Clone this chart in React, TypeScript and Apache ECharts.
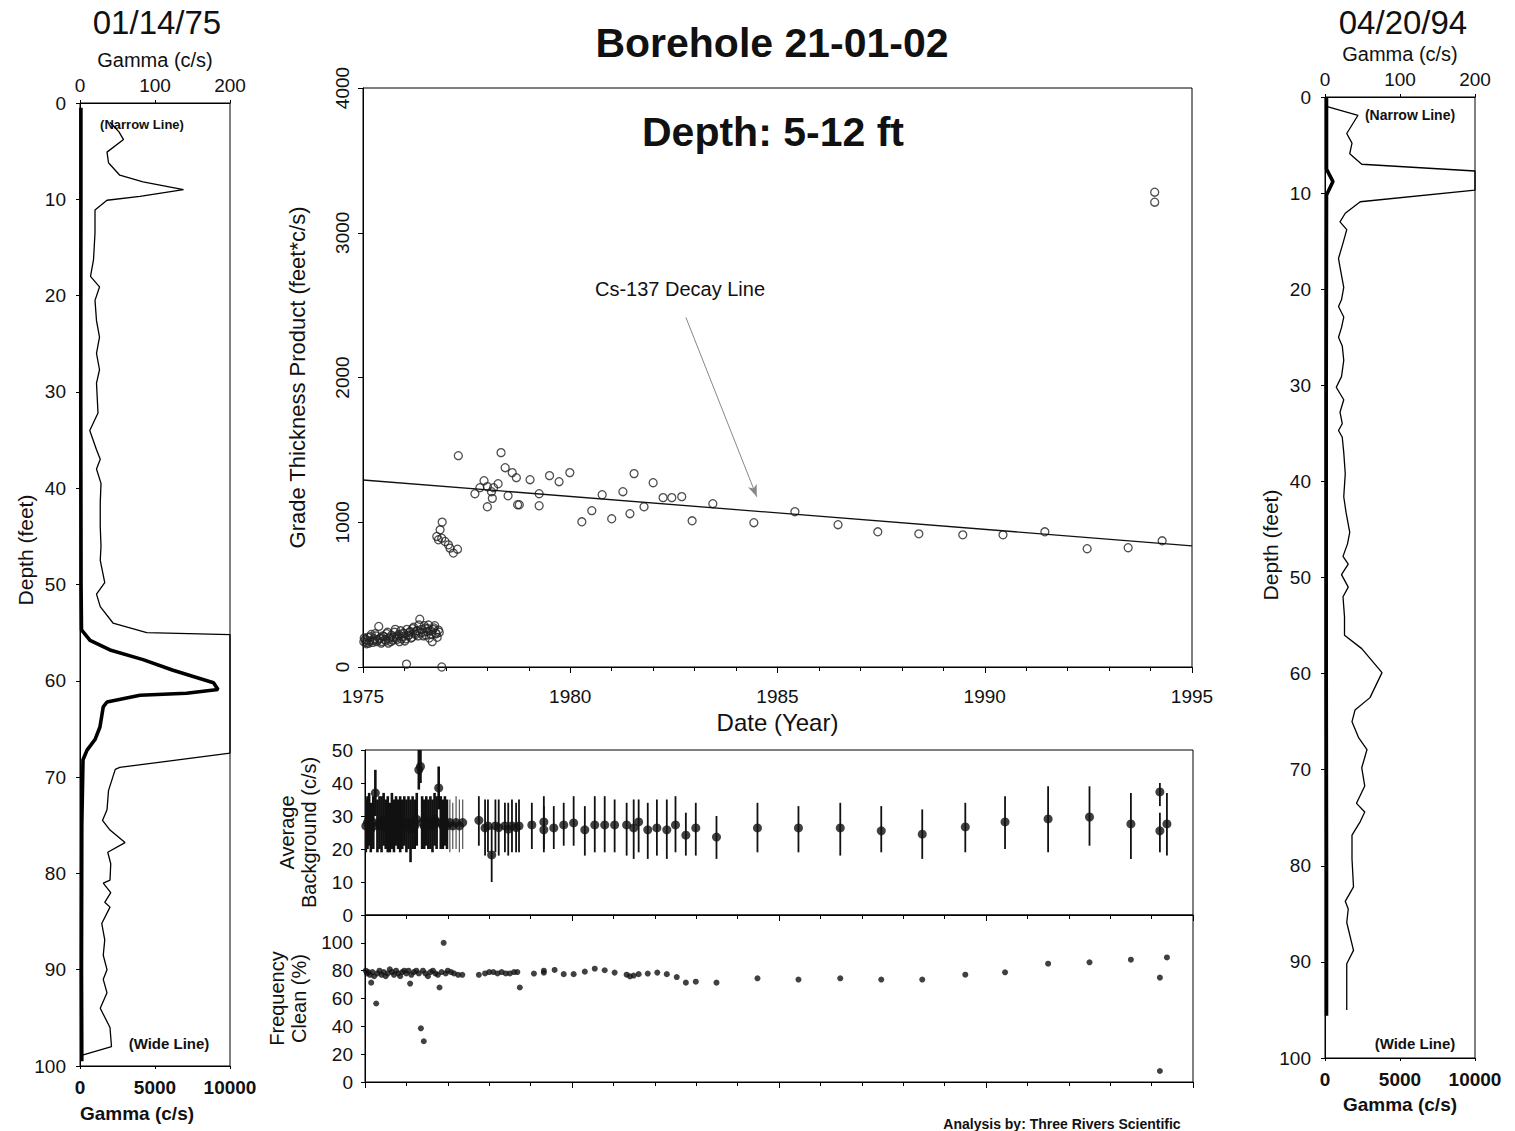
import React, { useEffect, useRef } from "react";
import * as echarts from "echarts";

const FONT = '"Liberation Sans", Arial, Helvetica, sans-serif';

// ---------- Gamma logs: [gamma (c/s), depth (ft)] ----------
const leftNarrow: number[][] = [
  [40, 2.0], [52, 3.0], [58, 3.8], [36, 5.1], [38, 6.2], [53, 7.5], [84, 8.2], [138, 9.0], [80, 9.7],
  [36, 10.1], [20, 11.1], [20, 13.5], [18, 16.3], [14, 18.0], [26, 19.1], [20, 20.5], [22, 22.6],
  [26, 24.3], [22, 26.0], [26, 27.7], [22, 29.1], [24, 32.2], [13, 34.0], [22, 36.0], [27, 37.0],
  [22, 38.0], [28, 39.5], [27, 41.5], [27, 44.0], [28, 46.0], [27, 47.5], [33, 49.8], [22, 51.0],
  [27, 52.3], [44, 54.0], [89, 55.0], [200, 55.2], [200, 67.5], [53, 69.0], [47, 69.2], [38, 71.4],
  [36, 73.4], [30, 74.5], [40, 75.5], [60, 76.8], [37, 77.8], [41, 79.0], [40, 80.7], [31, 81.0],
  [41, 82.0], [33, 83.0], [40, 83.5], [29, 85.2], [33, 86.9], [31, 88.5], [36, 90.0], [31, 91.0],
  [36, 92.4], [27, 94.0], [40, 96.0], [42, 98.0], [2, 98.9],
];
const leftWide: number[][] = [
  [60, 0.5], [60, 10], [50, 30], [70, 50], [100, 54.7], [670, 55.8], [2000, 56.8], [4200, 57.8],
  [6200, 58.9], [8900, 60.2], [9200, 60.9], [7100, 61.3], [4000, 61.5], [1800, 62.2], [1550, 62.7],
  [1330, 64.8], [1000, 66.1], [470, 67.2], [200, 68.2], [120, 75], [100, 90], [120, 99.5],
];
const rightNarrow: number[][] = [
  [3, 1.0], [44, 1.9], [29, 3.8], [36, 4.8], [33, 5.9], [49, 7.0], [200, 7.7], [200, 9.7], [47, 10.9],
  [27, 12.1], [20, 13.0], [29, 13.8], [24, 15.2], [18, 16.8], [20, 17.7], [25, 19.8], [22, 21.1],
  [18, 21.8], [25, 22.9], [22, 24.0], [18, 25.0], [23, 25.9], [25, 27.4], [22, 29.1], [15, 30.2],
  [25, 31.5], [20, 32.8], [23, 34.0], [18, 34.7], [23, 35.4], [25, 37.0], [27, 39.2], [25, 41.6],
  [28, 43.2], [33, 45.3], [30, 46.5], [24, 47.8], [31, 48.6], [22, 49.7], [31, 51.0], [24, 52.0],
  [26, 54.1], [26, 56.0], [49, 57.4], [76, 59.9], [60, 62.5], [40, 63.8], [36, 65.0], [45, 66.7],
  [56, 67.9], [49, 69.8], [53, 71.7], [42, 73.5], [53, 74.4], [47, 75.4], [36, 76.8], [36, 79.3],
  [38, 82.2], [27, 83.7], [31, 84.5], [29, 85.9], [38, 88.8], [29, 90.2], [29, 95.0],
];
const rightWide: number[][] = [
  [100, 0], [100, 7.5], [530, 8.8], [100, 10.2], [80, 30], [80, 60], [100, 80], [100, 95.6],
];

// ---------- Grade thickness product: [year, feet*c/s] ----------
const gtEarlyYears: number[] = [
  1975.02, 1975.05, 1975.09, 1975.12, 1975.16, 1975.2, 1975.23, 1975.27, 1975.31, 1975.35,
  1975.38, 1975.42, 1975.46, 1975.5, 1975.53, 1975.57, 1975.61, 1975.65, 1975.69, 1975.72,
  1975.76, 1975.8, 1975.84, 1975.88, 1975.91, 1975.95, 1975.99, 1976.03, 1976.06, 1976.1,
  1976.14, 1976.18, 1976.22, 1976.25, 1976.29, 1976.33, 1976.37, 1976.41, 1976.44, 1976.48,
  1976.52, 1976.56, 1976.6, 1976.63, 1976.67, 1976.71, 1976.75, 1976.79, 1976.82,
];
const gtEarlyValues: number[] = [
  175, 190, 160, 205, 180, 225, 170, 195, 215, 185, 280, 200, 175, 210, 190, 230, 165, 205, 220, 185,
  240, 200, 215, 175, 250, 210, 230, 195, 260, 220, 245, 205, 275, 235, 250, 215, 330, 260, 240, 285,
  220, 265, 200, 250, 175, 270, 235, 205, 255,
];
const gtEarlyYears2: number[] = [
  1975.03, 1975.07, 1975.1, 1975.14, 1975.18, 1975.25, 1975.29, 1975.33, 1975.4, 1975.44,
  1975.48, 1975.55, 1975.59, 1975.63, 1975.67, 1975.74, 1975.78, 1975.82, 1975.86, 1975.93,
  1975.97, 1976.01, 1976.08, 1976.12, 1976.16, 1976.2, 1976.27, 1976.31, 1976.35, 1976.39,
  1976.46, 1976.5, 1976.54, 1976.58, 1976.65, 1976.69, 1976.73, 1976.77, 1976.84,
];
const gtEarlyValues2: number[] = [
  200, 170, 185, 165, 210, 185, 230, 175, 195, 165, 215, 180, 240, 195, 175, 205, 260, 190, 225, 195,
  235, 180, 215, 240, 200, 265, 225, 250, 290, 235, 215, 270, 245, 290, 225, 260, 285, 230, 240,
];
const gtLater: number[][] = [
  [1976.05, 20], [1976.9, 0],
  [1976.91, 1001], [1976.86, 948], [1976.78, 902], [1976.82, 879], [1976.9, 890], [1976.98, 867],
  [1977.06, 844], [1977.1, 821], [1977.18, 787], [1977.28, 814],
  [1977.3, 1460],
  [1977.7, 1197], [1977.82, 1239], [1977.92, 1287], [1978.0, 1246], [1978.0, 1107], [1978.1, 1211],
  [1978.12, 1165], [1978.15, 1239], [1978.26, 1266], [1978.33, 1481], [1978.43, 1377], [1978.5, 1183],
  [1978.6, 1343], [1978.7, 1308], [1978.73, 1121], [1978.77, 1121], [1979.03, 1294], [1979.25, 1197],
  [1979.25, 1114], [1979.5, 1322], [1979.73, 1280], [1979.99, 1343], [1980.28, 1003], [1980.52, 1080],
  [1980.77, 1190], [1981.0, 1024], [1981.27, 1211], [1981.44, 1059], [1981.54, 1336], [1981.78, 1107],
  [1982.0, 1273], [1982.24, 1170], [1982.45, 1170], [1982.69, 1177], [1982.94, 1010], [1983.44, 1128],
  [1984.43, 997], [1985.42, 1073], [1986.46, 983], [1987.42, 934], [1988.41, 920], [1989.47, 913],
  [1990.44, 913], [1991.45, 934], [1992.47, 817], [1993.46, 824], [1994.28, 872],
  [1994.1, 3280], [1994.1, 3211],
];
const decayLine: number[][] = [[1975, 1292], [1995, 837]];
const arrowFrom: number[] = [1982.79, 2415];
const arrowTo: number[] = [1984.5, 1176];

// ---------- Average background: [year, mean, low, high] ----------
const bgEarly: number[][] = [
  [1975.02, 27, 19, 35], [1975.06, 28, 20, 36], [1975.1, 29, 21, 37], [1975.14, 26, 19, 34],
  [1975.2, 28, 20, 36], [1975.25, 37, 30, 44], [1975.3, 27, 19, 35], [1975.35, 28, 20, 36],
  [1975.4, 27, 19, 36], [1975.45, 29, 21, 37], [1975.5, 27, 20, 35], [1975.55, 28, 19, 36],
  [1975.6, 26, 19, 34], [1975.65, 28, 20, 37], [1975.7, 27, 19, 35], [1975.75, 29, 21, 36],
  [1975.8, 27, 20, 35], [1975.85, 28, 19, 36], [1975.9, 27, 20, 35], [1975.95, 28, 21, 36],
  [1976.0, 27, 19, 35], [1976.05, 28, 20, 36], [1976.1, 26, 16, 35], [1976.15, 28, 20, 36],
  [1976.2, 27, 20, 35], [1976.25, 29, 21, 37], [1976.3, 44, 38, 50], [1976.34, 45, 40, 50],
  [1976.38, 28, 20, 36], [1976.43, 27, 20, 35], [1976.48, 28, 21, 36], [1976.53, 27, 20, 35],
  [1976.58, 28, 20, 36], [1976.63, 27, 19, 35], [1976.68, 29, 21, 37], [1976.73, 28, 20, 36],
  [1976.78, 38.5, 32, 45], [1976.83, 28, 20, 36], [1976.88, 27, 20, 35], [1976.93, 28, 21, 36],
  [1976.98, 27, 20, 35],
];
const bgTransition: number[][] = [
  [1977.05, 28, 19, 35], [1977.12, 27, 20, 34], [1977.2, 28, 20, 36], [1977.28, 27, 19, 35],
  [1977.36, 28, 20, 35],
];
const bgLater: number[][] = [
  [1977.75, 28.7, 21, 36], [1977.9, 26.4, 18, 35], [1977.97, 27, 19, 35], [1978.06, 18.2, 10, 27],
  [1978.15, 27, 19, 35], [1978.23, 26.5, 18, 35], [1978.38, 27, 19, 34], [1978.46, 26, 18, 34],
  [1978.55, 27, 19, 35], [1978.65, 26.5, 19, 34], [1978.72, 27, 19, 35], [1979.03, 27.3, 20, 34],
  [1979.32, 28.2, 20, 36], [1979.32, 25.8, 19, 33], [1979.56, 26.4, 20, 33], [1979.8, 27.3, 21, 34],
  [1980.04, 27.9, 21, 36], [1980.31, 25.8, 18, 33], [1980.55, 27.3, 19, 36], [1980.79, 27.3, 19, 36],
  [1981.03, 27.3, 19, 35], [1981.32, 27.3, 18, 34], [1981.49, 26.4, 17, 35], [1981.61, 28.2, 19, 35],
  [1981.83, 25.8, 17, 34], [1982.05, 26.4, 18, 35], [1982.29, 25.8, 17, 35], [1982.5, 27.3, 19, 36],
  [1982.75, 24.2, 18, 31], [1982.99, 26.4, 18, 34], [1983.49, 23.6, 17, 30], [1984.48, 26.4, 19, 34],
  [1985.47, 26.4, 19, 33], [1986.48, 26.4, 18, 34], [1987.47, 25.5, 19, 33], [1988.46, 24.5, 17, 32],
  [1989.5, 26.7, 19, 34], [1990.46, 28.2, 20, 36], [1991.5, 29.1, 19, 39], [1992.5, 29.7, 21, 39],
  [1993.5, 27.6, 17, 37], [1994.2, 37.3, 33, 40], [1994.2, 25.5, 19, 31], [1994.37, 27.6, 18, 37],
];

// ---------- Frequency clean: [year, %] ----------
const fcEarly: number[][] = [
  [1975.02, 80], [1975.05, 78], [1975.08, 79], [1975.12, 77], [1975.15, 71.4], [1975.18, 79],
  [1975.22, 76], [1975.27, 56.4], [1975.3, 78], [1975.35, 80], [1975.4, 77], [1975.45, 79],
  [1975.5, 76], [1975.55, 78], [1975.6, 81], [1975.65, 79], [1975.7, 77], [1975.75, 80],
  [1975.8, 78], [1975.85, 76], [1975.9, 79], [1975.95, 80], [1976.0, 78], [1976.05, 80],
  [1976.09, 70.7], [1976.12, 77], [1976.18, 79], [1976.24, 80], [1976.3, 78], [1976.35, 38.6],
  [1976.4, 80], [1976.42, 29.3], [1976.46, 78], [1976.52, 76], [1976.58, 79], [1976.64, 80],
  [1976.7, 78], [1976.76, 77], [1976.8, 67.9], [1976.85, 79], [1976.9, 100], [1976.95, 78],
  [1977.0, 80], [1977.08, 79], [1977.15, 78], [1977.25, 77], [1977.35, 77],
];
const fcLater: number[][] = [
  [1977.75, 77], [1977.9, 78], [1978.0, 79], [1978.1, 79], [1978.2, 78], [1978.3, 79], [1978.4, 78],
  [1978.5, 78], [1978.6, 79], [1978.68, 79], [1978.74, 67.9], [1979.08, 77.9], [1979.32, 80],
  [1979.32, 78.5], [1979.58, 80.5], [1979.8, 77.5], [1980.04, 77.5], [1980.31, 79.3], [1980.55, 81.4],
  [1980.79, 80.3], [1981.03, 78.6], [1981.32, 77.1], [1981.4, 75.9], [1981.49, 76.5], [1981.61, 77.5],
  [1981.83, 77.9], [1982.06, 78.6], [1982.29, 77.5], [1982.53, 75.4], [1982.75, 71.4], [1982.99, 72.1],
  [1983.49, 71.4], [1984.48, 74.5], [1985.47, 73.6], [1986.48, 74.5], [1987.47, 73.6], [1988.46, 73.6],
  [1989.5, 77.1], [1990.46, 78.8], [1991.5, 85], [1992.5, 86], [1993.5, 87.9], [1994.2, 75],
  [1994.2, 7.9], [1994.37, 89.5],
];

const INK = "#111";
const plain = (v: number) => String(v);
const ts = (size: number, bold = false, extra: any = {}) => ({
  fontSize: size, fontWeight: bold ? "bold" : "normal", color: INK, fontFamily: FONT, ...extra,
});
const axLine = { show: true, lineStyle: { color: "#000", width: 1 } };
const noSplit = { show: false };

const txt = (x: number, y: number, text: string, size: number, bold = false, rotation = 0) => ({
  type: "text", x, y, rotation, silent: true,
  style: { text, fill: INK, font: `${bold ? "bold " : ""}${size}px ${FONT}`, align: "center", verticalAlign: "middle" },
});

function buildOption() {
  const gtEarly = [
    ...gtEarlyYears.map((y, i) => [y, gtEarlyValues[i]]),
    ...gtEarlyYears2.map((y, i) => [y, gtEarlyValues2[i]]),
  ];
  const grid = (left: number, top: number, width: number, height: number) => ({
    left, top, width, height, show: true, borderColor: "#000", borderWidth: 1, containLabel: false,
  });
  const logTop = (gridIndex: number) => ({
    type: "value", gridIndex, position: "top", min: 0, max: 200, interval: 100,
    name: "Gamma (c/s)", nameLocation: "middle", nameGap: 33, nameTextStyle: ts(20),
    axisLine: axLine, axisTick: { show: true, length: 3 }, axisLabel: { ...ts(19), margin: 8, formatter: plain },
    splitLine: noSplit,
  });
  const logBottom = (gridIndex: number, withName: boolean) => ({
    type: "value", gridIndex, position: "bottom", min: 0, max: 10000, interval: 5000,
    name: withName ? "Gamma (c/s)" : "", nameLocation: "middle", nameGap: 37, nameTextStyle: ts(19, true),
    axisLine: axLine, axisTick: { show: true, length: 3 }, axisLabel: { ...ts(19, true), margin: 12, formatter: plain },
    splitLine: noSplit,
  });
  const depthAxis = (gridIndex: number) => ({
    type: "value", gridIndex, min: 0, max: 100, interval: 10, inverse: true,
    axisLine: axLine, axisTick: { show: true, length: 4 }, axisLabel: { ...ts(19), margin: 14, formatter: plain },
    splitLine: noSplit,
  });
  const yearAxis = (gridIndex: number, labels: boolean) => ({
    type: "value", gridIndex, min: 1975, max: 1995, interval: 5,
    name: labels ? "Date (Year)" : "", nameLocation: "middle", nameGap: 40, nameTextStyle: ts(24),
    axisLine: axLine, axisTick: { show: true, length: 6 },
    minorTick: { show: true, splitNumber: 5, length: 4, lineStyle: { color: "#000" } },
    axisLabel: { show: labels, ...ts(19), margin: 20, formatter: plain },
    splitLine: noSplit, minorSplitLine: noSplit,
  });

  const line = (data: number[][], xAxisIndex: number, yAxisIndex: number, width: number) => ({
    type: "line", xAxisIndex, yAxisIndex, data, symbol: "none", silent: true,
    lineStyle: { color: "#000", width }, clip: true,
  });

  const errBars = (data: number[][], width: number, color: string) => ({
    type: "custom", xAxisIndex: 5, yAxisIndex: 3, data, silent: true, clip: true,
    encode: { x: 0, y: [1, 2, 3] },
    renderItem: (_p: any, api: any) => {
      const x = api.value(0);
      const a = api.coord([x, api.value(2)]);
      const b = api.coord([x, api.value(3)]);
      return {
        type: "line",
        shape: { x1: a[0], y1: a[1], x2: b[0], y2: b[1] },
        style: { stroke: color, lineWidth: width },
      };
    },
  });

  return {
    animation: false,
    backgroundColor: "#fff",
    textStyle: { fontFamily: FONT, color: INK },
    grid: [
      grid(80, 103, 150, 963),
      grid(1325, 97, 150, 961),
      grid(363, 88, 829, 579),
      grid(365, 750, 828, 165),
      grid(365, 915, 828, 167),
    ],
    xAxis: [
      logTop(0), logBottom(0, false), logTop(1), logBottom(1, true),
      yearAxis(2, true), yearAxis(3, false), yearAxis(4, false),
    ],
    yAxis: [
      depthAxis(0),
      depthAxis(1),
      {
        type: "value", gridIndex: 2, min: 0, max: 4000, interval: 1000,
        name: "Grade Thickness Product (feet*c/s)", nameLocation: "middle", nameGap: 55, nameTextStyle: ts(22),
        axisLine: axLine, axisTick: { show: true, length: 5 },
        axisLabel: { ...ts(19), rotate: 90, margin: 11, formatter: plain }, splitLine: noSplit,
      },
      {
        type: "value", gridIndex: 3, min: 0, max: 50, interval: 10,
        name: "Average\nBackground (c/s)", nameLocation: "middle", nameGap: 45,
        nameTextStyle: ts(20, false, { lineHeight: 22 }),
        axisLine: axLine, axisTick: { show: true, length: 4 },
        axisLabel: { ...ts(19), margin: 12, formatter: plain }, splitLine: noSplit,
      },
      {
        type: "value", gridIndex: 4, min: 0, max: 120, interval: 20,
        name: "Frequency\nClean (%)", nameLocation: "middle", nameGap: 45,
        nameTextStyle: ts(20, false, { lineHeight: 22 }),
        axisLine: axLine, axisTick: { show: true, length: 4 },
        axisLabel: { ...ts(19), margin: 12, formatter: (v: number) => (v > 100 ? "" : String(v)) },
        splitLine: noSplit,
      },
    ],
    series: [
      line(leftNarrow, 0, 0, 1.3),
      line(leftWide, 1, 0, 3.6),
      line(rightNarrow, 2, 1, 1.3),
      line(rightWide, 3, 1, 3.6),
      {
        type: "scatter", xAxisIndex: 4, yAxisIndex: 2, data: [...gtEarly, ...gtLater], symbol: "circle",
        symbolSize: 8, silent: true,
        itemStyle: { color: "rgba(255,255,255,0)", borderColor: "#222", borderWidth: 1.3 },
      },
      {
        type: "line", xAxisIndex: 4, yAxisIndex: 2, data: decayLine, symbol: "none", silent: true,
        lineStyle: { color: "#111", width: 1.3 },
        markLine: {
          silent: true, symbol: ["none", "arrow"], symbolSize: [7, 12], animation: false,
          label: { show: false },
          lineStyle: { color: "#888", width: 1, type: "solid" },
          data: [[{ coord: arrowFrom }, { coord: arrowTo }]],
        },
      },
      errBars(bgEarly, 2.6, "#111"),
      errBars(bgTransition, 1.2, "#555"),
      errBars(bgLater, 1.8, "#111"),
      {
        type: "scatter", xAxisIndex: 5, yAxisIndex: 3,
        data: [...bgEarly, ...bgTransition, ...bgLater].map((d) => [d[0], d[1]]),
        symbol: "circle", symbolSize: 9, silent: true, itemStyle: { color: "#111" },
      },
      {
        type: "scatter", xAxisIndex: 6, yAxisIndex: 4, data: [...fcEarly, ...fcLater],
        symbol: "circle", symbolSize: 6, silent: true, itemStyle: { color: "#111" },
      },
    ],
    graphic: [
      txt(157, 22, "01/14/75", 33),
      txt(1403, 22, "04/20/94", 33),
      txt(772, 43, "Borehole 21-01-02", 41, true),
      txt(773, 132, "Depth: 5-12 ft", 41, true),
      txt(680, 289, "Cs-137 Decay Line", 20),
      txt(25, 550, "Depth (feet)", 21, false, Math.PI / 2),
      txt(1270, 545, "Depth (feet)", 21, false, Math.PI / 2),
      txt(137, 1113, "Gamma (c/s)", 19, true),
      txt(142, 124, "(Narrow Line)", 13, true),
      txt(169, 1043, "(Wide Line)", 15, true),
      txt(1410, 115, "(Narrow Line)", 14, true),
      txt(1415, 1043, "(Wide Line)", 15, true),
      txt(1062, 1124, "Analysis by: Three Rivers Scientific", 14, true),
    ],
  };
}

export default function App() {
  const ref = useRef<HTMLDivElement>(null);
  useEffect(() => {
    if (!ref.current) return;
    const chart = echarts.init(ref.current, null, { renderer: "svg" });
    chart.setOption(buildOption() as any);
    return () => chart.dispose();
  }, []);
  return (
    <div
      ref={ref}
      style={{ position: "absolute", left: 0, top: 0, width: 1515, height: 1131, background: "#fff" }}
    />
  );
}
